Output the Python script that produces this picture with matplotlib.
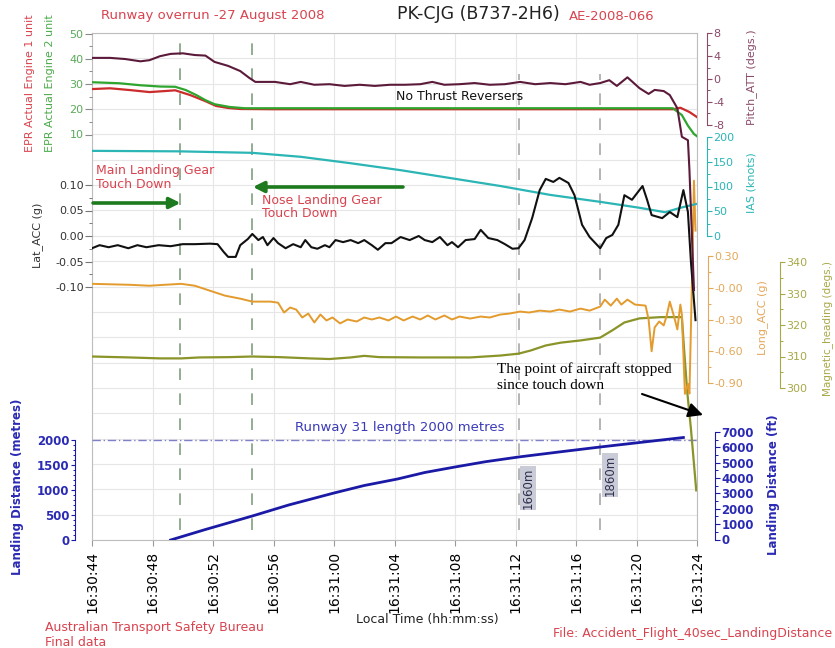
import matplotlib
matplotlib.use("Agg")
import matplotlib.pyplot as plt
from matplotlib.ticker import FixedLocator, FixedFormatter

# ---- data (time in seconds after 16:30:44) ----
time_labels = ['16:30:44', '16:30:48', '16:30:52', '16:30:56', '16:31:00', '16:31:04',
               '16:31:08', '16:31:12', '16:31:16', '16:31:20', '16:31:24']

epr1_t = [0, 1.2, 2.5, 3.8, 4.8, 5.5, 6.5, 7.5, 8.2, 9.0, 9.8, 12.0, 38.4, 38.9, 39.5, 40.0]
epr1_v = [28.0, 28.3, 27.6, 26.8, 27.2, 27.5, 25.6, 23.2, 21.3, 20.5, 20.1, 20.0, 20.0, 20.6, 18.9, 16.9]

epr2_t = [0, 1.8, 3.2, 4.5, 5.5, 6.2, 6.9, 7.5, 8.1, 9.1, 10.1, 38.4, 39.0, 39.4, 39.8, 40.0]
epr2_v = [30.7, 30.3, 29.5, 29.0, 28.9, 27.6, 25.6, 23.6, 22.0, 20.9, 20.4, 20.4, 17.7, 13.5, 10.2, 9.3]

pitch_t = [0, 1.2, 2.2, 3.2, 3.8, 4.5, 5.2, 6.0, 6.8, 7.5, 8.1, 9.0, 9.8, 10.4, 10.8,
           12.1, 13.1, 13.8, 14.7, 15.7, 16.7, 17.7, 18.7, 19.7, 20.7, 21.7, 22.5, 23.3,
           24.3, 25.3, 26.3, 27.3, 28.3, 29.3, 30.3, 31.3, 32.3, 32.9, 33.6, 34.2, 34.7,
           35.4, 36.2, 36.8, 37.2, 37.8, 38.2, 38.7, 39.0, 39.4, 39.5, 39.8]
pitch_v = [3.7, 3.7, 3.5, 3.1, 3.3, 4.0, 4.4, 4.5, 4.2, 4.1, 3.0, 2.3, 1.4, 0.2, -0.5,
           -0.5, -0.9, -0.5, -1.0, -0.9, -1.2, -1.0, -1.2, -1.0, -1.0, -0.9, -0.5, -1.0,
           -0.9, -0.7, -1.0, -0.9, -0.5, -0.9, -0.7, -0.9, -0.5, -1.0, -0.7, -0.2, -1.2,
           0.3, -1.6, -2.6, -1.9, -2.1, -2.8, -5.1, -10.1, -10.7, -15.9, -36.9]

ias_t = [0, 5.8, 10.6, 13.8, 17.1, 20.4, 23.7, 27.0, 30.3, 33.6, 36.2, 37.9, 38.9, 40.0]
ias_v = [172, 171, 168, 160, 147, 133, 117, 101, 83, 69, 57, 48, 57, 65]

lat_t = [0, 0.5, 1.1, 1.7, 2.4, 3.0, 3.6, 4.4, 5.2, 6.0, 6.8, 7.8, 8.3, 8.7, 9.0, 9.5, 9.8,
         10.3, 10.6, 11.0, 11.3, 11.6, 12.0, 12.3, 12.8, 13.3, 13.8, 14.1, 14.5, 14.9,
         15.4, 15.7, 16.1, 16.6, 17.1, 17.6, 18.0, 18.5, 18.9, 19.4, 19.8, 20.4, 21.0,
         21.6, 22.0, 22.5, 23.0, 23.5, 23.8, 24.2, 24.7, 25.3, 25.7, 26.2, 26.8, 27.3,
         27.8, 28.2, 28.6, 29.1, 29.6, 30.0, 30.5, 30.9, 31.5, 31.9, 32.4, 32.9, 33.6,
         34.0, 34.4, 34.8, 35.2, 35.7, 36.4, 36.7, 37.0, 37.7, 38.2, 38.7, 39.1, 39.4,
         39.6, 39.9]
lat_v = [-0.024, -0.018, -0.022, -0.018, -0.024, -0.018, -0.022, -0.018, -0.020, -0.016,
         -0.016, -0.015, -0.016, -0.031, -0.041, -0.041, -0.018, -0.006, 0.004, -0.008,
         -0.002, -0.018, -0.004, -0.014, -0.024, -0.016, -0.022, -0.008, -0.022, -0.025,
         -0.018, -0.022, -0.008, -0.012, -0.008, -0.014, -0.008, -0.018, -0.027, -0.014,
         -0.014, -0.002, -0.008, 0.000, -0.008, -0.012, -0.002, -0.018, -0.012, -0.022,
         -0.008, -0.006, 0.012, -0.004, -0.008, -0.016, -0.025, -0.024, -0.008, 0.035,
         0.090, 0.112, 0.106, 0.114, 0.104, 0.080, 0.022, -0.002, -0.024, -0.004, 0.002,
         0.022, 0.080, 0.071, 0.098, 0.071, 0.041, 0.035, 0.047, 0.037, 0.090, 0.047,
         -0.051, -0.165]

long_t = [0, 2.5, 3.8, 4.8, 5.9, 6.8, 7.8, 8.8, 9.8, 10.6, 11.8, 12.3, 12.7, 13.1, 13.5,
          13.9, 14.3, 14.7, 15.1, 15.5, 15.9, 16.4, 16.9, 17.5, 18.0, 18.5, 19.0, 19.6,
          20.1, 20.6, 21.2, 21.7, 22.2, 22.7, 23.3, 23.8, 24.3, 25.0, 25.7, 26.3, 27.0,
          27.6, 28.3, 28.9, 29.6, 30.3, 30.9, 31.6, 32.3, 32.9, 33.6, 33.9, 34.3, 34.7,
          35.0, 35.4, 35.9, 36.6, 36.8, 37.0, 37.2, 37.5, 37.8, 38.0, 38.2, 38.5, 38.7,
          38.9, 39.0, 39.2, 39.4, 39.5, 39.7, 39.8, 39.9]
long_v = [0.037, 0.028, 0.019, 0.028, 0.037, 0.019, -0.028, -0.075, -0.103, -0.131, -0.131,
          -0.141, -0.234, -0.187, -0.206, -0.281, -0.244, -0.328, -0.253, -0.309, -0.281,
          -0.337, -0.300, -0.319, -0.281, -0.300, -0.281, -0.309, -0.272, -0.309, -0.272,
          -0.300, -0.262, -0.300, -0.262, -0.300, -0.272, -0.291, -0.272, -0.281, -0.253,
          -0.244, -0.225, -0.234, -0.216, -0.225, -0.206, -0.225, -0.197, -0.216, -0.178,
          -0.112, -0.169, -0.103, -0.159, -0.112, -0.159, -0.169, -0.300, -0.600, -0.375,
          -0.319, -0.356, -0.262, -0.131, -0.281, -0.394, -0.159, -0.253, -1.003, -0.909,
          -1.000, 0.262, 1.012, 0.540]

hdg_t = [0, 2.5, 4.5, 5.9, 7.1, 9.1, 10.6, 12.4, 14.4, 15.7, 17.1, 18.0, 19.0, 21.7, 25.0,
         27.0, 28.2, 29.0, 30.0, 31.0, 32.3, 33.6, 34.4, 35.2, 36.2, 37.6, 39.0, 39.15,
         39.35, 39.6, 39.95]
hdg_v = [310.0, 309.7, 309.4, 309.4, 309.7, 309.8, 310.0, 309.8, 309.4, 309.2, 309.7,
         310.2, 309.8, 309.7, 309.7, 310.3, 310.9, 311.9, 313.5, 314.4, 315.1, 316.0,
         318.3, 320.8, 322.1, 322.5, 322.5, 312.0, 299.0, 287.0, 267.5]

dist_t = [5.2, 7.5, 10.6, 13.0, 16.0, 18.0, 20.2, 22.0, 24.0, 26.0, 28.2, 31.0, 33.6, 36.5, 39.1]
dist_m = [0, 210, 480, 700, 940, 1090, 1220, 1350, 1460, 1565, 1660, 1765, 1860, 1960, 2050]

runway_length = 2000
events = [5.85, 10.6, 28.25, 33.6]       # gear touch downs and marked points
event_colors = ['#7f9f7f', '#7f9f7f', '#a8a8a8', '#a8a8a8']
event_top = [1.0, 1.0, 0.92, 0.92]
marks = [(28.83, '1660m'), (34.25, '1860m')]

# ---- colours ----
RED_TXT = '#d9434f'
EPR1_C, EPR2_C = '#cc2b2b', '#2fa52f'
PITCH_C, PITCH_L = '#5c1a3a', '#8a4a68'
IAS_C = '#2bb5b5'
LAT_C = '#111111'
LONG_C, LONG_L = '#e39b2d', '#e3a85a'
HDG_C, HDG_L = '#8a9428', '#a8a848'
DIST_C, DIST_L = '#1a1aa6', '#2a2ab4'

W, H = 835, 648
L, R, T, B = 92, 697, 33, 540
rect = [L / W, 1 - B / H, (R - L) / W, (B - T) / H]
plt.rcParams['font.family'] = 'DejaVu Sans'

fig = plt.figure(figsize=(W / 100, H / 100), dpi=100)

bg = fig.add_axes(rect)
bg.set_xlim(0, 40)
bg.set_ylim(0, 20)
bg.set_yticks(range(21))
bg.tick_params(axis='y', length=0, labelleft=False)
bg.set_xticks(range(0, 41, 4))
bg.set_xticklabels(time_labels, rotation=90, fontsize=10)
bg.tick_params(axis='x', length=4, color='#999999', pad=4)
bg.grid(True, color='#e6e6e6', lw=0.8)
for s in bg.spines.values():
    s.set_color('#bdbdbd')


def sub_axis(v1, y1, v2, y2):
    ax = fig.add_axes(rect, sharex=bg)
    ax.set_facecolor('none')
    for s in ax.spines.values():
        s.set_visible(False)
    ax.xaxis.set_visible(False)
    k = (v2 - v1) / (y2 - y1)
    ax.set_ylim(v1 + (B - y1) * k, v1 + (T - y1) * k)
    return ax


def left_ticks(ax, major, minor, labels, lcolor, tcolor, size=8, weight='normal', ln=5):
    ax.yaxis.set_major_locator(FixedLocator(major))
    ax.yaxis.set_major_formatter(FixedFormatter(labels))
    ax.yaxis.set_minor_locator(FixedLocator(minor))
    ax.tick_params(axis='y', which='major', length=ln, width=0.8, color=tcolor,
                   labelcolor=lcolor, labelsize=size, pad=1)
    ax.tick_params(axis='y', which='minor', length=ln * 0.5, width=0.7, color=tcolor)
    for lab in ax.get_yticklabels():
        lab.set_fontweight(weight)


def right_axis(ax, out_px, lo, hi, major, minor, labels, scolor, lcolor, size=8, weight='normal'):
    ax.yaxis.tick_right()
    sp = ax.spines['right']
    sp.set_visible(True)
    sp.set_position(('outward', out_px * 0.72))
    sp.set_bounds(lo, hi)
    sp.set_color(scolor)
    ax.yaxis.set_major_locator(FixedLocator(major))
    ax.yaxis.set_major_formatter(FixedFormatter(labels))
    ax.yaxis.set_minor_locator(FixedLocator(minor))
    ax.tick_params(axis='y', which='major', length=3.5, width=0.8, color=scolor,
                   labelcolor=lcolor, labelsize=size, pad=1)
    ax.tick_params(axis='y', which='minor', length=2, width=0.7, color=scolor)
    for lab in ax.get_yticklabels():
        lab.set_fontweight(weight)


# event markers and runway line
for t, c, top in zip(events, event_colors, event_top):
    bg.axvline(t, ymin=0.02, ymax=top, color=c, lw=1.2, ls=(0, (7, 8)), zorder=1)

ax_m = sub_axis(2000, 440, 0, 540)
ax_m.axhline(runway_length, color='#8080c8', lw=1, ls=(0, (6, 2, 1, 2)))
ax_m.plot(dist_t, dist_m, color=DIST_C, lw=2)
ax_m.spines['left'].set_visible(True)
ax_m.spines['left'].set_position(('outward', 17 * 0.72))
ax_m.spines['left'].set_bounds(0, 2000)
ax_m.spines['left'].set_color(DIST_C)
left_ticks(ax_m, [0, 500, 1000, 1500, 2000], list(range(100, 2000, 100)),
           ['0', '500', '1000', '1500', '2000'], DIST_L, DIST_C, size=8.5, weight='bold', ln=3)

ax_ft = sub_axis(7000, 432, 0, 539.5)
right_axis(ax_ft, 18, 0, 7000, list(range(0, 7001, 1000)), list(range(500, 7000, 1000)),
           [str(v) for v in range(0, 7001, 1000)], DIST_C, DIST_L, size=8.5, weight='bold')

ax_h = sub_axis(340, 262, 300, 388)
ax_h.plot(hdg_t, hdg_v, color=HDG_C, lw=1.6)
right_axis(ax_h, 83, 300, 340, [300, 310, 320, 330, 340], [305, 315, 325, 335],
           ['300', '310', '320', '330', '340'], HDG_L, HDG_L)

ax_l = sub_axis(0.30, 256, -0.90, 383)
ax_l.plot(long_t, long_v, color=LONG_C, lw=1.4)
right_axis(ax_l, 11, -0.9, 0.3, [-0.9, -0.6, -0.3, 0.0, 0.3], [-0.75, -0.45, -0.15, 0.15],
           ['-0.90', '-0.60', '-0.30', '-0.00', '0.30'], LONG_L, LONG_L)

ax_i = sub_axis(200, 137, 0, 236)
ax_i.plot(ias_t, ias_v, color=IAS_C, lw=1.6)
right_axis(ax_i, 10, 0, 200, [0, 50, 100, 150, 200], [25, 75, 125, 175],
           ['0', '50', '100', '150', '200'], IAS_C, IAS_C)

ax_lat = sub_axis(0.10, 185, -0.10, 287)
ax_lat.plot(lat_t, lat_v, color=LAT_C, lw=1.5)
left_ticks(ax_lat, [-0.1, -0.05, 0.0, 0.05, 0.1], [-0.075, -0.025, 0.025, 0.075],
           ['-0.10', '-0.05', '0.00', '0.05', '0.10'], '#333333', '#777777')

ax_e = sub_axis(50, 33.5, 10, 134.5)
ax_e.plot(epr1_t, epr1_v, color=EPR1_C, lw=1.6)
ax_e.plot(epr2_t, epr2_v, color=EPR2_C, lw=1.6)
left_ticks(ax_e, [10, 20, 30, 40, 50], [15, 25, 35, 45],
           ['10', '20', '30', '40', '50'], '#5aaa5a', '#8a8a8a')

ax_p = sub_axis(8, 33.3, -8, 124.8)
ax_p.plot(pitch_t, pitch_v, color=PITCH_C, lw=1.5)
right_axis(ax_p, 10, -8, 8, [-8, -4, 0, 4, 8], [-6, -2, 2, 6],
           ['-8', '-4', '0', '4', '8'], PITCH_L, PITCH_L)

# annotations inside the plot (x in seconds, y as axes fraction)
yf = lambda y: (B - y) / (B - T)
tr = ('data', 'axes fraction')
bg.annotate('', xy=(events[0], yf(203)), xytext=(0.07, yf(203)), xycoords=tr,
            arrowprops=dict(arrowstyle='-|>', color='#1e7a1e', lw=2.6, mutation_scale=16,
                            shrinkA=0, shrinkB=0))
bg.annotate('', xy=(events[1] + 0.04, yf(187)), xytext=(20.56, yf(187)), xycoords=tr,
            arrowprops=dict(arrowstyle='-|>', color='#1e7a1e', lw=2.6, mutation_scale=16,
                            shrinkA=0, shrinkB=0))
bg.text(0.26, yf(177.5), 'Main Landing Gear\nTouch Down', transform=bg.get_xaxis_transform(),
        color=RED_TXT, fontsize=9, va='center', ha='left', linespacing=1.05)
bg.text(11.24, yf(207), 'Nose Landing Gear\nTouch Down', transform=bg.get_xaxis_transform(),
        color=RED_TXT, fontsize=9, va='center', ha='left', linespacing=1.05)
bg.text(24.33, yf(96), 'No Thrust Reversers', transform=bg.get_xaxis_transform(),
        color='#111111', fontsize=9, ha='center', va='center')
bg.text(20.36, yf(428), 'Runway 31 length 2000 metres', transform=bg.get_xaxis_transform(),
        color='#3a3ab8', fontsize=9.5, ha='center', va='center')
for (t, txt), y in zip(marks, [488, 475]):
    bg.text(t, yf(y), txt, transform=bg.get_xaxis_transform(), rotation=90, fontsize=8.5,
            color='#303050', ha='center', va='center',
            bbox=dict(boxstyle='square,pad=0.15', fc='#c9cbd6', ec='none'), zorder=5)

# figure-level texts
def fx(x):
    return x / W


def fy(y):
    return 1 - y / H


fig.text(fx(213), fy(16), 'Runway overrun -27 August 2008', color=RED_TXT, fontsize=9.5,
         ha='center', va='center')
fig.text(fx(478), fy(14), 'PK-CJG (B737-2H6)', color='#222222', fontsize=12.5,
         ha='center', va='center')
fig.text(fx(612), fy(16), 'AE-2008-066', color=RED_TXT, fontsize=9.5, ha='center', va='center')

fig.text(fx(30), fy(83), 'EPR Actual Engine 1 unit', color='#d9434f', fontsize=8,
         rotation=90, ha='center', va='center')
fig.text(fx(50), fy(83), 'EPR Actual Engine 2 unit', color='#4aaa4a', fontsize=8,
         rotation=90, ha='center', va='center')
fig.text(fx(38), fy(235), 'Lat_ACC (g)', color='#333333', fontsize=8,
         rotation=90, ha='center', va='center')
fig.text(fx(18), fy(487), 'Landing Distance (metres)', color=DIST_L, fontsize=8.5,
         fontweight='bold', rotation=90, ha='center', va='center')
fig.text(fx(752), fy(77), 'Pitch_ATT (degs.)', color=PITCH_L, fontsize=8,
         rotation=90, ha='center', va='center')
fig.text(fx(752), fy(183), 'IAS (knots)', color=IAS_C, fontsize=8,
         rotation=90, ha='center', va='center')
fig.text(fx(763), fy(318), 'Long_ACC (g)', color=LONG_L, fontsize=8,
         rotation=90, ha='center', va='center')
fig.text(fx(828), fy(328), 'Magnetic_heading (degs.)', color=HDG_L, fontsize=7.5,
         rotation=90, ha='center', va='center')
fig.text(fx(773), fy(485), 'Landing Distance (ft)', color=DIST_L, fontsize=8.5,
         fontweight='bold', rotation=90, ha='center', va='center')

fig.text(fx(497), fy(377), 'The point of aircraft stopped\nsince touch down',
         family='Liberation Serif', fontsize=11, color='black', ha='left', va='center',
         linespacing=1.3)
ax_p.annotate('', xy=(703, H - 415), xytext=(642, H - 394), xycoords='figure pixels',
              arrowprops=dict(arrowstyle='-|>', color='black', lw=1.5, mutation_scale=22,
                              shrinkA=0, shrinkB=0), annotation_clip=False)

fig.text(fx(427), fy(620), 'Local Time (hh:mm:ss)', color='#222222', fontsize=9,
         ha='center', va='center')
fig.text(fx(45), fy(635), 'Australian Transport Safety Bureau\nFinal data', color=RED_TXT,
         fontsize=9, ha='left', va='center', linespacing=1.1)
fig.text(fx(832), fy(633), 'File: Accident_Flight_40sec_LandingDistance', color=RED_TXT,
         fontsize=9, ha='right', va='center')

fig.savefig('out.png', dpi=100)
